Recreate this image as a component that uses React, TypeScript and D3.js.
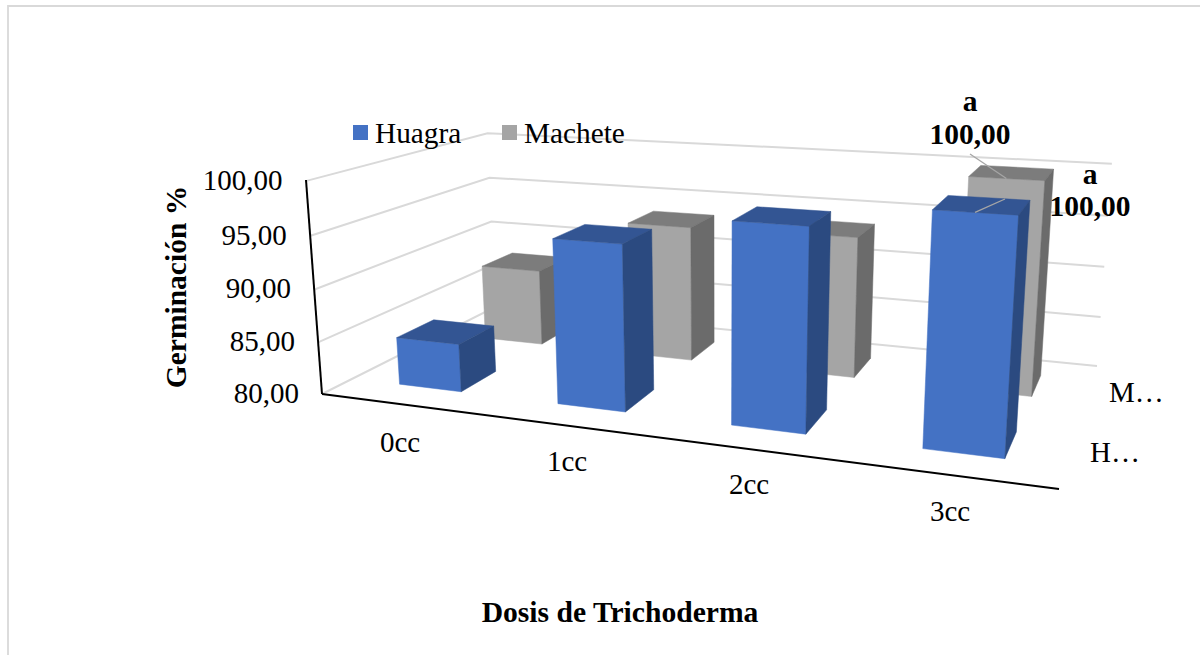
import React from "react";
import * as d3 from "d3";

const categories = ["0cc", "1cc", "2cc", "3cc"];
const seriesNames = ["Huagra", "Machete"];
const huagra = [84.6, 95.3, 98.0, 100];
const machete = [87.8, 93.5, 93.7, 100];
const valueTicks = [80, 85, 90, 95, 100];
const fmt = (v: number) => v.toFixed(2).replace(".", ",");

const seriesLabels = ["H…", "M…"];
const FONT = "'Liberation Serif', serif";

// Perspective calibration of the chart box (floor corners and top corners)
const A = [322, 394], B = [1059, 489], C = [1097, 366], D = [495, 307];
const Atop = [306, 180], Dtop = [487, 133], Ctop = [1112, 165];

function floorHomography() {
  const [x0, y0] = A, [x1, y1] = B, [x2, y2] = C, [x3, y3] = D;
  const dx1 = x1 - x2, dx2 = x3 - x2, sx = x0 - x1 + x2 - x3;
  const dy1 = y1 - y2, dy2 = y3 - y2, sy = y0 - y1 + y2 - y3;
  const den = dx1 * dy2 - dx2 * dy1;
  const g = (sx * dy2 - dx2 * sy) / den;
  const h = (dx1 * sy - sx * dy1) / den;
  return { a: x1 - x0 + g * x1, b: x3 - x0 + h * x3, c: x0, d: y1 - y0 + g * y1, e: y3 - y0 + h * y3, f: y0, g, h };
}
const H = floorHomography();

function solve3(M: number[][], r: number[]) {
  const m = M.map((row, i) => [...row, r[i]]);
  for (let i = 0; i < 3; i++) {
    let p = i;
    for (let k = i + 1; k < 3; k++) if (Math.abs(m[k][i]) > Math.abs(m[p][i])) p = k;
    [m[i], m[p]] = [m[p], m[i]];
    for (let k = 0; k < 3; k++) {
      if (k === i) continue;
      const f = m[k][i] / m[i][i];
      for (let j = i; j < 4; j++) m[k][j] -= f * m[i][j];
    }
  }
  return [m[0][3] / m[0][0], m[1][3] / m[1][1], m[2][3] / m[2][2]];
}

function verticalColumn() {
  const pts: [number, number, number[]][] = [[0, 0, Atop], [0, 1, Dtop], [1, 1, Ctop]];
  const N = [[0, 0, 0], [0, 0, 0], [0, 0, 0]];
  const rhs = [0, 0, 0];
  const add = (row: number[], t: number) => {
    for (let i = 0; i < 3; i++) {
      rhs[i] += row[i] * t;
      for (let j = 0; j < 3; j++) N[i][j] += row[i] * row[j];
    }
  };
  for (const [u, w, p] of pts) {
    const X = H.a * u + H.b * w + H.c, Y = H.d * u + H.e * w + H.f, W = H.g * u + H.h * w + 1;
    add([1, 0, -p[0]], p[0] * W - X);
    add([0, 1, -p[1]], p[1] * W - Y);
  }
  return solve3(N, rhs);
}
const V = verticalColumn();

function project(u: number, w: number, v: number): [number, number] {
  const W = H.g * u + H.h * w + 1 + V[2] * v;
  return [(H.a * u + H.b * w + H.c + V[0] * v) / W, (H.d * u + H.e * w + H.f + V[1] * v) / W];
}

const uScale = d3.scaleBand<string>().domain(categories).range([0.003, 1.003]).paddingInner(0.6).paddingOuter(0.3);
const wScale = d3.scaleBand<string>().domain(seriesNames).range([0, 1]).paddingInner(0.6).paddingOuter(0.3);
const vScale = d3.scaleLinear().domain([80, 100]).range([0, 1]);
const poly = d3.line().curve(d3.curveLinearClosed);

const palettes: Record<string, { front: string; top: string; side: string }> = {
  Huagra: { front: "#4472C4", top: "#335593", side: "#2B4A80" },
  Machete: { front: "#A5A5A5", top: "#7C7C7C", side: "#6B6B6B" },
};

function Bar({ cat, series, value }: { cat: string; series: string; value: number }) {
  const u0 = uScale(cat)!, u1 = u0 + uScale.bandwidth();
  const w0 = wScale(series)!, w1 = w0 + wScale.bandwidth();
  const v = vScale(value);
  const c = palettes[series];
  const face = (pts: [number, number, number][], fill: string) => (
    <path d={poly(pts.map((p) => project(p[0], p[1], p[2])))!} fill={fill} stroke={fill} strokeWidth={0.5} />
  );
  return (
    <g>
      {face([[u0, w0, 0], [u1, w0, 0], [u1, w0, v], [u0, w0, v]], c.front)}
      {face([[u0, w0, v], [u1, w0, v], [u1, w1, v], [u0, w1, v]], c.top)}
      {face([[u1, w0, 0], [u1, w1, 0], [u1, w1, v], [u1, w0, v]], c.side)}
    </g>
  );
}

const frontCentre = (cat: string, series: string, value: number) =>
  project(uScale(cat)! + uScale.bandwidth() / 2, wScale(series)!, vScale(value));

const catLabelPos = [[400, 445], [567, 464], [749, 487], [950, 514]];

export default function App() {
  const seg = (a: number[], b: number[], stroke: string, sw: number) => (
    <line x1={a[0]} y1={a[1]} x2={b[0]} y2={b[1]} stroke={stroke} strokeWidth={sw} />
  );
  const lastM = frontCentre("3cc", "Machete", machete[3]);
  const lastH = frontCentre("3cc", "Huagra", huagra[3]);
  return (
    <svg width={1200} height={655} style={{ position: "fixed", left: 0, top: 0, background: "#fff" }} fontFamily={FONT} fill="#000">
      <path d="M8,655V6H1200" fill="none" stroke="#d9d9d9" strokeWidth={1.8} />
      {valueTicks.map((t) => {
        const v = vScale(t);
        const f = project(0, 0, v), bl = project(0, 1, v), br = project(1, 1, v);
        return (
          <g key={t}>
            <path d={`M${f}L${bl}L${br}`} fill="none" stroke="#d9d9d9" strokeWidth={2} />
            <text x={f[0] - 23} y={f[1] + 2} textAnchor="end" dominantBaseline="middle" fontSize={29}>{fmt(t)}</text>
          </g>
        );
      })}
      {categories.map((c, i) => <Bar key={c} cat={c} series="Machete" value={machete[i]} />)}
      {categories.map((c, i) => <Bar key={c} cat={c} series="Huagra" value={huagra[i]} />)}
      {seg(A, Atop, "#000", 2)}
      {seg(A, B, "#000", 2)}
      {categories.map((c, i) => (
        <text key={c} x={catLabelPos[i][0]} y={catLabelPos[i][1]} textAnchor="middle" dominantBaseline="middle" fontSize={29}>{c}</text>
      ))}
      <text x={1109} y={402} fontSize={29}>{seriesLabels[1]}</text>
      <text x={1090} y={462} fontSize={29}>{seriesLabels[0]}</text>

      <line x1={970} y1={154} x2={lastM[0]} y2={lastM[1]} stroke="#a6a6a6" strokeWidth={1.3} />
      <line x1={1005} y1={199} x2={lastH[0]} y2={lastH[1]} stroke="#a6a6a6" strokeWidth={1.3} />
      <g fontWeight="bold" fontSize={29.5} textAnchor="middle">
        <text x={970} y={111}>a</text>
        <text x={970} y={144}>{fmt(machete[3])}</text>
        <text x={1090} y={184}>a</text>
        <text x={1090} y={216}>{fmt(huagra[3])}</text>
      </g>

      <rect x={353} y={125} width={15} height={15} fill={palettes.Huagra.front} />
      <text x={375} y={143} fontSize={29.3}>{seriesNames[0]}</text>
      <rect x={502} y={125} width={15} height={15} fill={palettes.Machete.front} />
      <text x={524} y={143} fontSize={29.3}>{seriesNames[1]}</text>

      <text transform="translate(186,287) rotate(-90)" textAnchor="middle" fontWeight="bold" fontSize={29.5}>Germinación %</text>
      <text x={620} y={622} textAnchor="middle" fontWeight="bold" fontSize={29.6}>Dosis de Trichoderma</text>
    </svg>
  );
}
